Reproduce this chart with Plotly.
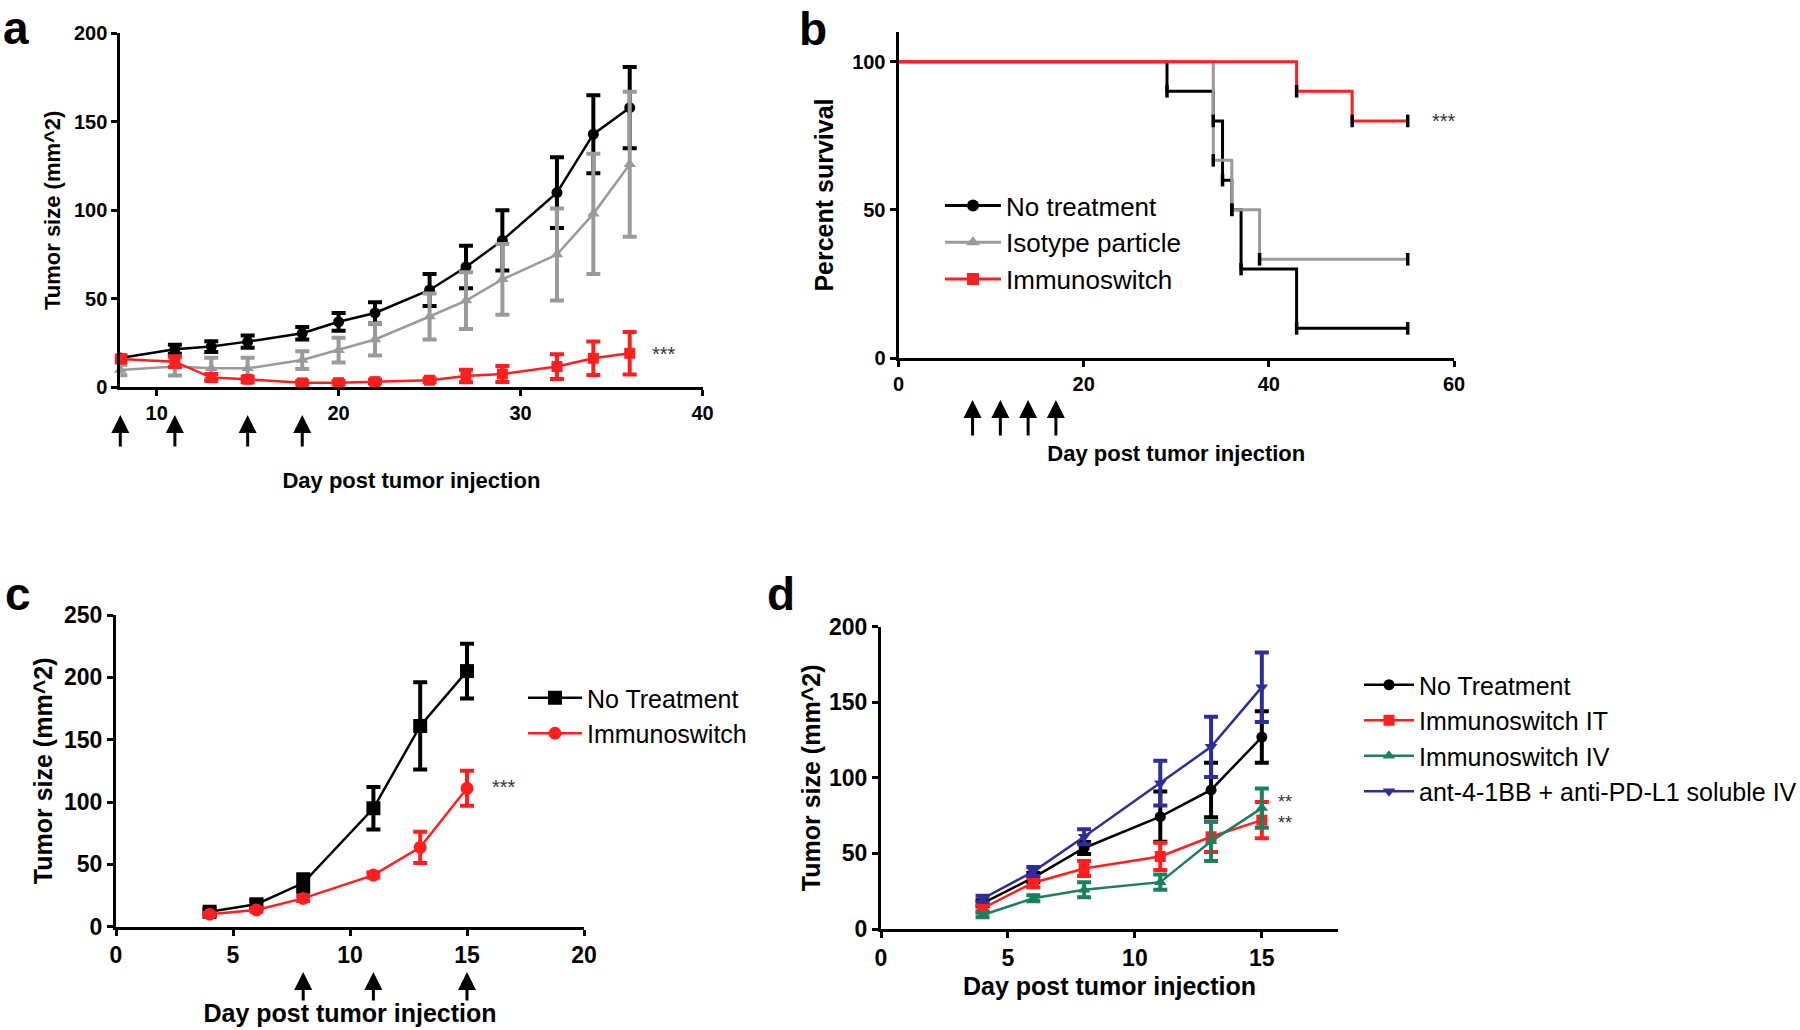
import plotly.graph_objects as go

FONT = "Liberation Sans, Arial, sans-serif"
BLACK = "#000000"
GRAY = "#9a9a9a"
RED = "#ff1f1f"
GREEN = "#1b8060"
BLUE = "#2e2e96"

# ---------------- Panel a : tumour growth ----------------
a_days = [8, 11, 13, 15, 18, 20, 22, 25, 27, 29, 32, 34, 36]
a_none = [16.5, 21.5, 23, 25.8, 30.5, 37, 42, 55, 68, 83, 110, 143, 158]
a_none_err = [1.5, 2.5, 3, 3.5, 3.5, 5, 6, 9, 12, 17, 20, 22, 23]
a_iso = [9.8, 11.7, 10.7, 10.7, 15.4, 21, 27, 40, 49, 61, 75, 98, 126]
a_iso_err = [3, 5, 6, 6, 5, 7, 9, 13, 16, 20, 26, 34, 41]
a_imm = [16, 14.5, 5.5, 4.5, 2.5, 2.6, 3.2, 4, 6.4, 7.5, 11.7, 16.4, 19.2]
a_imm_err = [2, 3, 2, 1.5, 1, 1, 1, 1, 3.5, 4.5, 7, 9.5, 12]
a_arrow_days = [8, 11, 15, 18]

# ---------------- Panel b : survival ----------------
b_none_t = [0, 29, 34, 35, 36, 37, 43, 55]
b_none_s = [100, 90, 80, 60, 50, 30, 10, 10]
b_iso_t = [0, 34, 36, 39, 55]
b_iso_s = [100, 66.7, 50, 33.3, 33.3]
b_imm_t = [0, 43, 49, 55]
b_imm_s = [100, 90, 80, 80]
b_arrow_days = [8, 11, 14, 17]
b_names = ["No treatment", "Isotype particle", "Immunoswitch"]

# ---------------- Panel c ----------------
c_days = [4, 6, 8, 11, 13, 15]
c_none = [12, 18, 35, 95, 161, 205]
c_none_err = [2, 3, 7, 17, 35, 22]
c_imm = [10, 13.4, 22.7, 41.4, 63.6, 111]
c_imm_err = [1, 1.5, 2, 2, 12.5, 14]
c_arrow_days = [8, 11, 15]
c_names = ["No Treatment", "Immunoswitch"]

# ---------------- Panel d ----------------
d_days = [4, 6, 8, 11, 13, 15]
d_none = [17, 34, 53.6, 74.3, 92, 127]
d_none_err = [2, 3, 4, 16.6, 18, 17]
d_it = [13.7, 30.6, 40, 48, 61, 72]
d_it_err = [2, 3, 5, 9, 10, 12]
d_iv = [9.3, 20.3, 26, 31, 58, 80]
d_iv_err = [1.5, 2, 5, 5, 13, 13]
d_ab = [20, 38, 61, 96.5, 120.5, 160]
d_ab_err = [2, 3, 5, 14.8, 20, 23]
d_names = ["No Treatment", "Immunoswitch IT", "Immunoswitch IV",
           "ant-4-1BB + anti-PD-L1 soluble IV"]

W, H = 1800, 1030


def px_x(p):
    return p / W


def px_y(p):
    return 1 - p / H


fig = go.Figure()


def growth(x, y, err, color, symbol, size, xa, ya, name=None, legend=None, lw=2.5):
    fig.add_trace(go.Scatter(
        x=x, y=y, mode="lines+markers", name=name,
        showlegend=name is not None, legend=legend,
        line=dict(color=color, width=lw),
        marker=dict(color=color, symbol=symbol, size=size),
        error_y=dict(type="data", array=err, visible=True, color=color,
                     thickness=4, width=7),
        xaxis=xa, yaxis=ya, cliponaxis=False))


# panel a traces
growth(a_days, a_none, a_none_err, BLACK, "circle", 11, "x", "y")
growth(a_days, a_iso, a_iso_err, GRAY, "triangle-up", 11, "x", "y")
growth(a_days, a_imm, a_imm_err, RED, "square", 11, "x", "y")

# panel b traces
for t, s, c in [(b_none_t, b_none_s, BLACK), (b_iso_t, b_iso_s, GRAY), (b_imm_t, b_imm_s, RED)]:
    fig.add_trace(go.Scatter(x=t, y=s, mode="lines", line=dict(color=c, width=3, shape="hv"),
                             showlegend=False, xaxis="x2", yaxis="y2", cliponaxis=False))
for t, s in [(b_none_t, b_none_s), (b_iso_t, b_iso_s), (b_imm_t, b_imm_s)]:
    fig.add_trace(go.Scatter(x=t[1:], y=s[1:], mode="markers",
                             marker=dict(symbol="line-ns", size=9, line=dict(color=BLACK, width=3.5)),
                             showlegend=False, xaxis="x2", yaxis="y2", cliponaxis=False))
for name, c, sym in zip(b_names, [BLACK, GRAY, RED], ["circle", "triangle-up", "square"]):
    fig.add_trace(go.Scatter(x=[None], y=[None], mode="lines+markers", name=name,
                             line=dict(color=c, width=3), marker=dict(color=c, symbol=sym, size=12),
                             legend="legend", xaxis="x2", yaxis="y2"))

# panel c traces
growth(c_days, c_none, c_none_err, BLACK, "square", 14, "x3", "y3", c_names[0], "legend2")
growth(c_days, c_imm, c_imm_err, RED, "circle", 13, "x3", "y3", c_names[1], "legend2")

# panel d traces
growth(d_days, d_none, d_none_err, BLACK, "circle", 11, "x4", "y4", d_names[0], "legend3")
growth(d_days, d_it, d_it_err, RED, "square", 11, "x4", "y4", d_names[1], "legend3")
growth(d_days, d_iv, d_iv_err, GREEN, "triangle-up", 11, "x4", "y4", d_names[2], "legend3")
growth(d_days, d_ab, d_ab_err, BLUE, "triangle-down", 11, "x4", "y4", d_names[3], "legend3")


def axis_style(domain, rng, dtick, tick_size, title, title_size, standoff, anchor, tickvals=None):
    d = dict(domain=domain, range=rng, showgrid=False, zeroline=False,
             showline=True, linecolor="black", linewidth=3,
             ticks="outside", ticklen=6, tickwidth=3, tickcolor="black",
             tickfont=dict(family=FONT, size=tick_size, color="black", weight="bold"),
             title=dict(text=title, font=dict(family=FONT, size=title_size, color="black", weight="bold"),
                        standoff=standoff),
             anchor=anchor, fixedrange=True, automargin=False)
    if tickvals is not None:
        d["tickvals"] = tickvals
    else:
        d["dtick"] = dtick
        d["tick0"] = 0
    return d


XT = "Day post tumor injection"
YT = "Tumor size (mm^2)"

fig.update_layout(
    width=W, height=H, margin=dict(l=0, r=0, t=0, b=0, autoexpand=False),
    paper_bgcolor="white", plot_bgcolor="white",
    font=dict(family=FONT, color="black"),
    xaxis=axis_style([px_x(120.3), px_x(702.5)], [8, 40], None, 20, XT, 22, 50, "y", [10, 20, 30, 40]),
    yaxis=axis_style([px_y(387.3), px_y(33.3)], [0, 200], 50, 20, YT, 22, 8, "x"),
    xaxis2=axis_style([px_x(898.5), px_x(1454)], [0, 60], 20, 20, XT, 22, 52, "y2"),
    yaxis2=axis_style([px_y(358), px_y(32)], [0, 110], None, 20, "Percent survival", 25, 12, "x2", [0, 50, 100]),
    xaxis3=axis_style([px_x(116), px_x(584)], [0, 20], 5, 23, XT, 25, 38, "y3"),
    yaxis3=axis_style([px_y(926.7), px_y(615)], [0, 250], 50, 23, YT, 25, 5, "x3"),
    xaxis4=axis_style([px_x(881), px_x(1338)], [0, 18], None, 23, XT, 25, 8, "y4", [0, 5, 10, 15]),
    yaxis4=axis_style([px_y(929), px_y(626.7)], [0, 200], 50, 23, YT, 25, 2, "x4"),
    legend=dict(x=px_x(940), y=px_y(182), xanchor="left", yanchor="top",
                font=dict(family=FONT, size=26, color="black"), itemwidth=56,
                bgcolor="rgba(0,0,0,0)", tracegroupgap=0),
    legend2=dict(x=px_x(523), y=px_y(675), xanchor="left", yanchor="top",
                 font=dict(family=FONT, size=25, color="black"), itemwidth=54,
                 bgcolor="rgba(0,0,0,0)"),
    legend3=dict(x=px_x(1359), y=px_y(662), xanchor="left", yanchor="top",
                 font=dict(family=FONT, size=25, color="black"), itemwidth=50,
                 bgcolor="rgba(0,0,0,0)"),
)

ann = []
# panel letters
for letter, x, y in [("a", 1, 56), ("b", 797, 57), ("c", 3, 622), ("d", 765, 622)]:
    ann.append(dict(text=letter, x=px_x(x), y=px_y(y), xref="paper", yref="paper",
                    xanchor="left", yanchor="bottom", showarrow=False,
                    font=dict(family=FONT, size=46, color="black", weight="bold")))

# treatment arrows
for days, xr, tip, length in [(a_arrow_days, "x", 415, 33), (b_arrow_days, "x2", 400, 37),
                              (c_arrow_days, "x3", 972, 30)]:
    for dday in days:
        ann.append(dict(x=dday, y=px_y(tip), xref=xr, yref="paper", text="",
                        showarrow=True, ax=0, ay=length, axref="pixel", ayref="pixel",
                        arrowhead=2, arrowsize=1.2, arrowwidth=3, arrowcolor="black"))

# significance marks
for txt, x, y, xr, yr, fs in [("***", 37.1, 19, "x", "y", 20), ("***", 57.4, 80, "x2", "y2", 20),
                              ("***", 16.0, 112, "x3", "y3", 20), ("**", 15.55, 84, "x4", "y4", 18),
                              ("**", 15.55, 70, "x4", "y4", 18)]:
    ann.append(dict(text=txt, x=x, y=y, xref=xr, yref=yr, xanchor="left", yanchor="middle",
                    showarrow=False, font=dict(family=FONT, size=fs, color="#333333")))

fig.update_layout(annotations=ann)

fig.write_html("out.html", config={"displayModeBar": False},
               post_script="document.body.style.margin='0';document.body.style.overflow='hidden';")
